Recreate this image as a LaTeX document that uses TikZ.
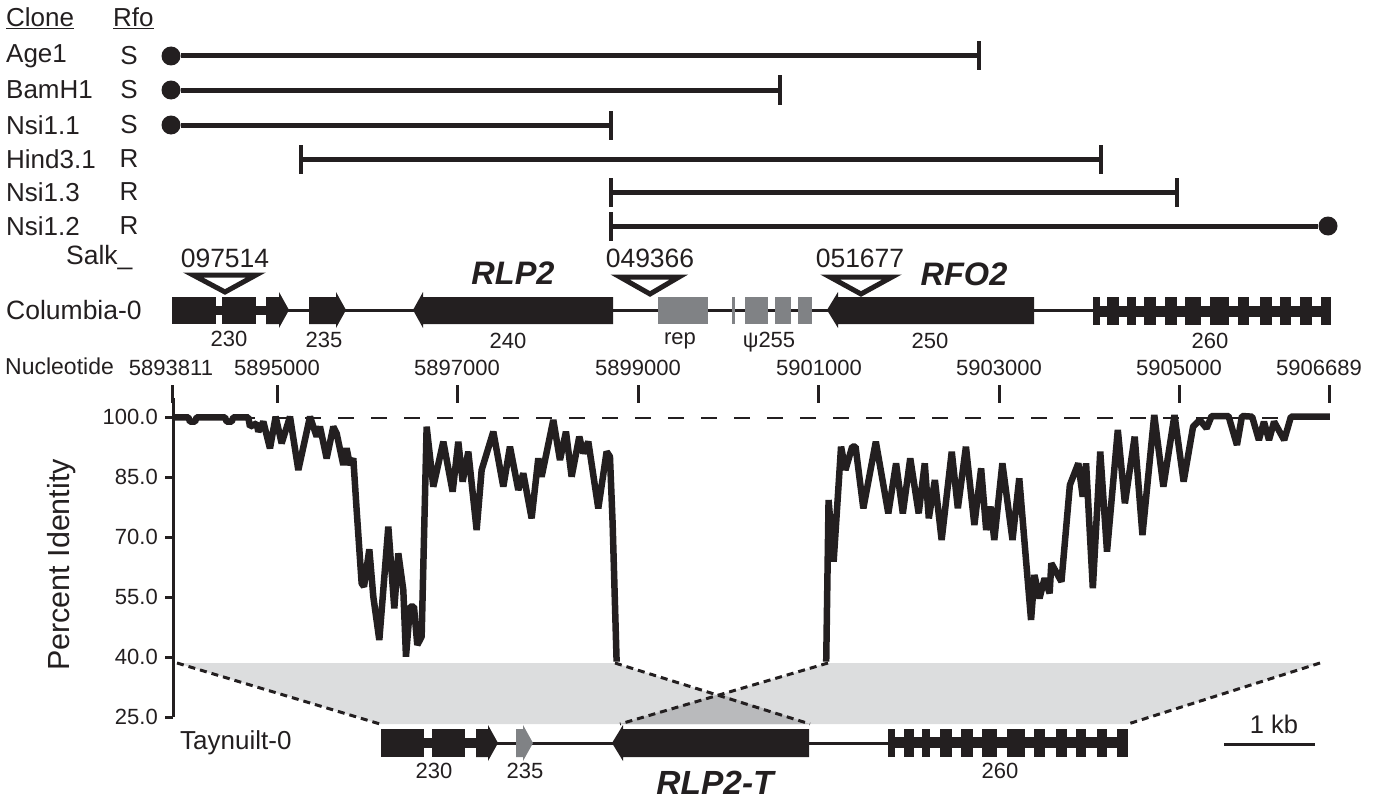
\documentclass[tikz,border=0pt]{standalone}
\usepackage{fontspec}
\setmainfont{Liberation Sans}
\definecolor{ink}{HTML}{231F20}
\definecolor{pseudo}{HTML}{808285}
\definecolor{synteny}{HTML}{DCDDDE}
\definecolor{overlap}{HTML}{B9BABC}
\newcommand{\sz}[1]{\fontsize{#1}{#1}\selectfont}
\begin{document}
\begin{tikzpicture}[x=1pt,y=-1pt,inner sep=0pt,text=ink]
  \useasboundingbox (0,0) rectangle (1381,800);
  \tikzset{LB/.style={anchor=west,font=\sz{26}}}
  \tikzset{RF/.style={font=\sz{26}}}
  \tikzset{NUM/.style={font=\sz{22}}}
  \tikzset{SALK/.style={font=\sz{26.5}}}
  \tikzset{GN/.style={font=\bfseries\itshape\sz{32.5}}}
  \tikzset{DOT/.style={circle,fill=ink,minimum size=19pt}}
  \tikzset{TICK/.style={rectangle,fill=ink,minimum width=4.5pt,minimum height=29pt}}
  \tikzset{BAR/.style={draw=ink,line width=5pt}}
  \tikzset{INS/.style={draw=ink,fill=white,line width=5pt,line join=miter}}
  \tikzset{LNK/.style={draw=ink,line width=3pt}}
  \tikzset{TK/.style={draw=ink,line width=3pt}}
  \tikzset{DSH/.style={draw=ink,line width=3pt,dash pattern=on 7pt off 5pt}}
  \tikzset{CRV/.style={draw=ink,line width=6.5pt,line join=bevel}}

  % clones
  \node [LB] (hclone) at (6,18)  {\underline{Clone}};
  \node [LB] (hrfo)   at (113,18) {\underline{Rfo}};
  \foreach \nm/\txt/\rf/\y in {a/Age1/S/56,b/BamH1/S/90,c/Nsi1.1/S/125,d/Hind3.1/R/159,e/Nsi1.3/R/192,f/Nsi1.2/R/226}{
    \node [LB] (l\nm) at (6,\y) {\txt};
    \node [RF] (r\nm) at (129,\y) {\rf};
  }
  \node [DOT]  (a1) at (171,56)   {};
  \node [TICK] (a2) at (979,56)   {};
  \node [DOT]  (b1) at (171,90)   {};
  \node [TICK] (b2) at (780,90)   {};
  \node [DOT]  (c1) at (171,125)  {};
  \node [TICK] (c2) at (611,125)  {};
  \node [TICK] (d1) at (301,159)  {};
  \node [TICK] (d2) at (1101,159) {};
  \node [TICK] (e1) at (611,192)  {};
  \node [TICK] (e2) at (1177,192) {};
  \node [TICK] (f1) at (611,226)  {};
  \node [DOT]  (f2) at (1328,226) {};
  \foreach \from/\to in {a1/a2,b1/b2,c1/c2,d1/d2,e1/e2,f1/f2}
    \draw [BAR] (\from) -- (\to);

  % Columbia-0
  \node [SALK,anchor=west] (salk) at (66,258) {Salk\_};
  \node [LB,font=\sz{26.5}] (col) at (6,310) {Columbia-0};
  \coordinate (cs) at (172,310);
  \coordinate (ce) at (1331,310);
  \draw [LNK] (cs) -- (ce);
  \fill [ink] (172,297) rectangle (216,324);
  \fill [ink] (216,306) rectangle (222,315);
  \fill [ink] (222,297) rectangle (256,324);
  \fill [ink] (256,306) rectangle (266,315);
  \fill [ink] (266,297) -- (279,297) -- (279,292) -- (289,310) -- (279,328) -- (279,324) -- (266,324) -- cycle;
  \fill [ink] (309,297) -- (336,297) -- (336,292) -- (346,310) -- (336,328) -- (336,324) -- (309,324) -- cycle;
  \fill [ink] (613,297) -- (423,297) -- (423,292) -- (413,310) -- (423,328) -- (423,324) -- (613,324) -- cycle;
  \fill [ink] (1034,297) -- (838,297) -- (838,292) -- (827,310) -- (838,328) -- (838,324) -- (1034,324) -- cycle;
  \fill [pseudo] (658,297) rectangle (708,324);
  \fill [pseudo] (732,297) rectangle (735,324);
  \fill [pseudo] (745,297) rectangle (768,324);
  \fill [pseudo] (775,297) rectangle (791,324);
  \fill [pseudo] (798,297) rectangle (812,324);
  \fill [ink] (1093,306) rectangle (1331,317);
  \foreach \a/\b in {1093/1100,1107/1119,1127/1136,1144/1156,1165/1177,1185/1201,1210/1229,1238/1249,1260/1272,1280/1291,1300/1312,1321/1331}
    \fill [ink] (\a,297) rectangle (\b,325);
  \draw [INS] (193,275) -- (256,275) -- (225,292) -- cycle;
  \draw [INS] (620,277) -- (679,277) -- (650,294) -- cycle;
  \draw [INS] (830,277) -- (892,277) -- (861,294) -- cycle;
  \node [SALK] (s1) at (225,258) {097514};
  \node [SALK] (s2) at (650,258) {049366};
  \node [SALK] (s3) at (860,258) {051677};
  \node [GN] (rlp) at (513,273) {RLP2};
  \node [GN] (rfo) at (964,274) {RFO2};
  \node [NUM] (g230) at (229,339) {230};
  \node [NUM] (g235) at (324,340) {235};
  \node [NUM] (g240) at (508,341) {240};
  \node [NUM] (grep) at (680,341) {rep};
  \node [NUM] (g255) at (769,342) {ψ255};
  \node [NUM] (g250) at (930,341) {250};
  \node [NUM] (g260) at (1210,341) {260};

  % nucleotide scale
  \node [LB,font=\sz{23}] (nuc) at (5,366) {Nucleotide};
  \foreach \nm/\txt/\x/\tx in {n1/5893811/172/171,n2/5895000/277/277,n3/5897000/457/457,n4/5899000/638/638,n5/5901000/818/819,n6/5903000/999/999,n7/5905000/1179/1179,n8/5906689/1329/1319}{
    \node [NUM] (\nm) at (\tx,368) {\txt};
    \coordinate (\nm a) at (\x,385);
    \coordinate (\nm b) at (\x,403);
    \draw [TK] (\nm a) -- (\nm b);
  }

  % synteny bands
  \coordinate (p1) at (177,663);
  \coordinate (p2) at (380,724);
  \coordinate (p3) at (615,663);
  \coordinate (p4) at (810,724);
  \coordinate (p5) at (828,663);
  \coordinate (p6) at (620,724);
  \coordinate (p7) at (1320,663);
  \coordinate (p8) at (1128,724);
  \fill [synteny] (p1) -- (p3) -- (p4) -- (p2) -- cycle;
  \fill [synteny] (p5) -- (p7) -- (p8) -- (p6) -- cycle;
  \fill [overlap] (p6) -- (p4) -- (720,694) -- cycle;
  \foreach \from/\to in {p1/p2,p3/p4,p5/p6,p7/p8}
    \draw [DSH] (\from) -- (\to);

  % percent identity
  \coordinate (yt) at (173,398);
  \coordinate (yb) at (173,717);
  \draw [TK] (yt) -- (yb);
  \foreach \nm/\txt/\y in {y1/100.0/417,y2/85.0/477,y3/70.0/537,y4/55.0/597,y5/40.0/657,y6/25.0/717}{
    \node [NUM,anchor=east] (\nm) at (158,\y) {\txt};
    \coordinate (\nm t) at (165,\y);
    \coordinate (\nm r) at (173,\y);
    \draw [TK] (\nm t) -- (\nm r);
  }
  \node [font=\sz{30.5},rotate=90] (pid) at (62,565) {Percent Identity};
  \coordinate (d1) at (173,418);
  \coordinate (d2) at (1329,418);
  \draw [draw=ink,line width=2.5pt,dash pattern=on 16pt off 17pt] (d1) -- (d2);
  \begin{scope}[shift={(160,390)},scale=.3333]
    \draw [CRV] plot coordinates {(40,82) (85,82) (90,95) (105,95) (110,82) (195,82) (200,95) (215,95) (220,82) (265,82) (270,110) (290,100) (295,125) (310,95) (330,175) (347,80) (365,160) (390,80) (415,240) (450,80) (470,140) (480,110) (500,205) (520,110) (530,130) (550,225) (560,175) (570,225) (580,205) (590,360) (605,580) (612,590) (628,478) (640,620) (658,750) (685,410) (703,655) (715,490) (730,600) (738,800) (750,650) (762,650) (772,765) (785,740) (800,110) (820,290) (850,155) (878,305) (895,155) (908,275) (925,185) (950,420) (965,240) (1000,125) (1030,290) (1050,170) (1075,300) (1090,250) (1115,385) (1135,205) (1145,260) (1180,90) (1200,210) (1218,125) (1235,260) (1258,140) (1270,190) (1285,155) (1315,355) (1340,185) (1350,200) (1358,400) (1370,815)};
  \end{scope}
  \begin{scope}[shift={(810,390)},xscale=.3375,yscale=.3333]
    \draw [CRV] plot coordinates {(48,815) (55,330) (70,515) (92,170) (105,240) (125,170) (135,170) (158,355) (195,155) (232,370) (255,220) (275,370) (297,205) (322,370) (340,220) (352,385) (370,270) (390,450) (420,185) (438,355) (462,170) (487,405) (507,235) (522,420) (535,350) (546,450) (570,220) (600,450) (620,265) (640,510) (655,690) (665,555) (680,625) (695,565) (710,610) (715,520) (745,575) (770,285) (795,220) (808,320) (818,220) (838,595) (860,185) (880,485) (912,120) (933,340) (962,140) (985,435) (1020,75) (1047,290) (1080,75) (1107,275) (1135,110) (1155,90) (1175,115) (1190,78) (1240,78) (1265,165) (1280,78) (1310,80) (1330,150) (1345,95) (1360,150) (1375,95) (1405,150) (1425,80) (1540,80)};
  \end{scope}

  % Taynuilt-0
  \node [LB] (tay) at (180,743) {Taynuilt-0};
  \coordinate (ts) at (381,743);
  \coordinate (te) at (1128,743);
  \draw [LNK] (ts) -- (te);
  \fill [ink] (381,729) rectangle (424,757);
  \fill [ink] (424,738) rectangle (432,748);
  \fill [ink] (432,729) rectangle (465,757);
  \fill [ink] (465,738) rectangle (476,748);
  \fill [ink] (476,729) -- (488,729) -- (488,725) -- (498,743) -- (488,761) -- (488,757) -- (476,757) -- cycle;
  \fill [pseudo] (516,729) -- (523,729) -- (523,725) -- (533,743) -- (523,761) -- (523,757) -- (516,757) -- cycle;
  \fill [ink] (809,729) -- (623,729) -- (623,725) -- (612,743) -- (623,761) -- (623,757) -- (809,757) -- cycle;
  \fill [ink] (888,737) rectangle (1128,748);
  \foreach \a/\b in {888/895,904/914,922/930,940/952,961/973,982/997,1007/1025,1034/1045,1056/1067,1076/1086,1097/1107,1117/1128}
    \fill [ink] (\a,729) rectangle (\b,757);
  \node [NUM] (t230) at (434,771) {230};
  \node [NUM] (t235) at (525,771) {235};
  \node [NUM] (t260) at (1000,771) {260};
  \node [GN,font=\bfseries\itshape\sz{33.5}] (rlpt) at (715,783) {RLP2-T};

  % scale bar
  \node [font=\sz{25.5}] (kb) at (1274,724) {1 kb};
  \coordinate (k1) at (1224,744);
  \coordinate (k2) at (1315,744);
  \draw [LNK] (k1) -- (k2);
\end{tikzpicture}
\end{document}
